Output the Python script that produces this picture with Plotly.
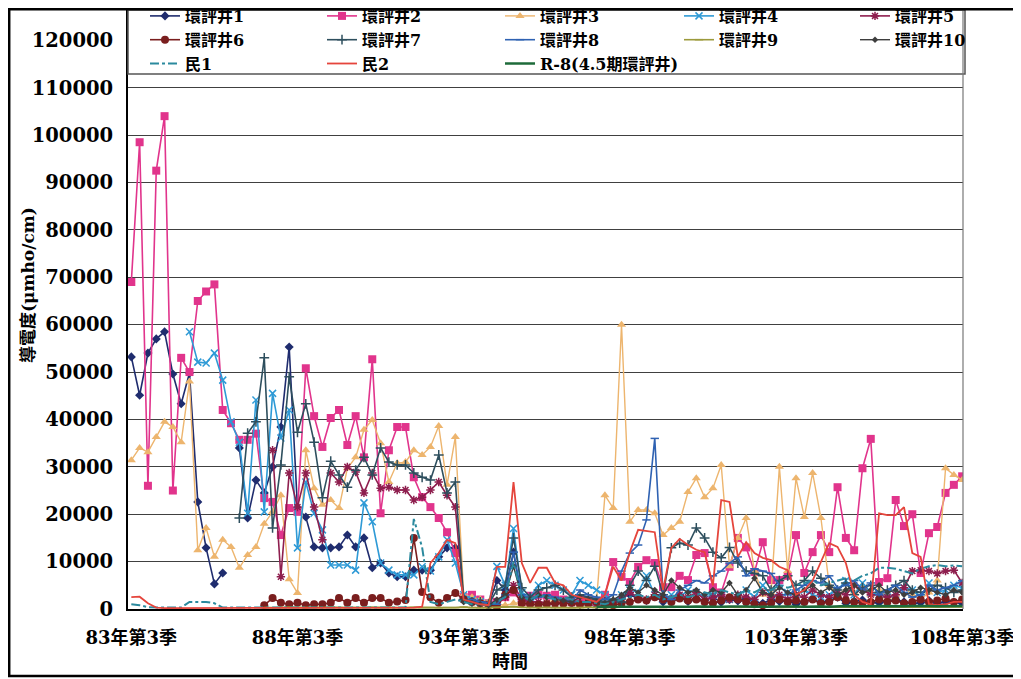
import plotly.graph_objects as go

# ---------------- categories (quarters 83Q3 .. 108Q3) ----------------
quarters = []
for k in range(101):
    yr = 83 + (2 + k) // 4
    qt = (2 + k) % 4 + 1
    quarters.append(f"{yr}年第{qt}季")

tick_labels = ["83年第3季", "88年第3季", "93年第3季", "98年第3季", "103年第3季", "108年第3季"]
y_ticks = [0, 10000, 20000, 30000, 40000, 50000, 60000, 70000, 80000, 90000, 100000, 110000, 120000]

N = None
# ---------------- series values (µmho/cm) ----------------
well1 = [53200, 45100, 54000, 57000, 58500, 49600, 43300, 49800, 22600, 12900,
         5300, 7600, N, 34000, 19200, 27200, 24500, 30000, 38400, 55300,
         21300, 19400, 13100, 12900, 12900, 13100, 15600, 13100, 15000, 8700,
         9700, 7600, 6800, 6800, 8200, 8200, 8200, 11000, 12900, 12900,
         2500, 1500, 1200, 900, 6000, 4000, 12000, 1500, 1200, 1000,
         1300, 1100, 1500, 1200, 1000, 900, 800, 700, 1500, 2500,
         3000, 2200, 1800, 2600, 1500, 2000, 2800, 1600, 2200, 1800,
         2500, 1400, 2000, 1700, 2300, 1500, 1200, 2000, 1600, 1800,
         1000, 1500, 2200, 1300, 1800, 2500, 1200, 1600, 1900, 1400,
         1300, 1700, 2000, 1500, 1100, 1300, 1800, 1200, 1500, 1400,
         1200]
well2 = [69000, 98500, 26000, 92500, 104000, 25000, 53000, 50000, 65000, 67000,
         68500, 42000, 39200, 35700, 35700, 37000, 23400, 22600, 15600, 21300,
         20500, 50800, 40700, 34200, 40300, 42000, 34600, 40700, 32000, 52700,
         20200, 33500, 38400, 38400, 27800, 23600, 21500, 19200, 16200, 11800,
         2500, 3000, 2000, 1200, 1500, 2500, 3500, 1500, 2800, 3000,
         2800, 3000, 2000, 1500, 2000, 1800, 1500, 3000, 9900, 6800,
         5700, 8900, 10300, 9700, 4600, 4600, 7000, 6100, 11400, 11800,
         4600, 3500, 8900, 15000, 13000, 7800, 14100, 6100, 6100, 7000,
         15600, 7600, 12000, 15600, 12000, 25700, 15000, 12400, 29700, 35900,
         5700, 6500, 23000, 17500, 20000, 7600, 16000, 17300, 24500, 26200,
         28000]
well3 = [31400, 34000, 33100, 36300, 39500, 38400, 35200, 48000, 12400, 17100,
         11000, 14600, 13100, 8700, 11400, 13100, 18000, 20500, 24000, 6300,
         3400, 33500, 25500, 22000, 23000, 21300, 29700, 32000, 37800, 39900,
         35000, 26800, 30800, 31000, 33500, 32500, 34200, 38600, 26200, 36300,
         3000, 2500, 2000, 1500, 1000, 800, 1200, 1500, 1000, 1200,
         1500, 1800, 1500, 1200, 1000, 1200, 2000, 24000, 21300, 60000,
         18400, 20900, 20900, 20200, 15600, 17100, 18400, 24700, 27600, 23600,
         25500, 30400, 9000, 15000, 19200, 8000, 3000, 3400, 30000, 8000,
         27600, 19400, 28700, 19200, 5000, 3000, 4000, 3500, 5000, 3000,
         4000, 2500, 3000, 4500, 3000, 2000, 3500, 6000, 29700, 28300,
         27200]
well4 = [N, N, N, N, N, N, N, 58500, 52100, 51900,
         54000, 48300, 39500, 35200, 20200, 44100, 20500, 45500, 36100, 42000,
         12900, 26800, 20200, 16700, 9300, 9300, 9300, 8200, 22400, 18400,
         9700, 8200, 7200, 7200, 7200, 8900, 8000, 11000, 14600, 9700,
         3000, 2000, 1500, 1000, 9000, 5000, 17000, 3500, 2500, 5000,
         6000, 5000, 4000, 3000, 6000, 5000, 4000, 3000, 1500, 3000,
         4000, 3500, 7000, 3000, 2000, 3000, 2500, 4000, 3500, 2500,
         3000, 2500, 2000, 3000, 4000, 2500, 5000, 3000, 2500, 3500,
         3000, 4000, 3000, 2500, 3000, 4000, 6000, 3000, 5500, 3500,
         3000, 2500, 3000, 4500, 4000, 2500, 5500, 3500, 4000, 5000,
         4500]
well5 = [N, N, N, N, N, N, N, N, N, N,
         N, N, N, N, N, N, N, 33500, 6800, 28700,
         21500, 28700, 21500, 14600, 28700, 26800, 30000, 28900, 24500, 28700,
         25500, 25700, 25100, 25100, 23000, 23600, 25100, 26800, 24000, 21500,
         2000, 1500, 1200, 1000, 1500, 2500, 5000, 2000, 1500, 1500,
         1200, 1000, 1500, 1200, 1000, 1200, 1500, 1000, 1500, 2000,
         3500, 2500, 2000, 3000, 2500, 2000, 3000, 2500, 3500, 2000,
         2500, 3000, 2000, 3000, 2500, 2000, 3500, 2500, 3000, 2000,
         3000, 2500, 4000, 3000, 2500, 3500, 3000, 5000, 4000, 3000,
         3000, 2500, 3000, 4500, 8000, 8200, 8000, 7500, 8000, 8200,
         5500]
well6 = [N, N, N, N, N, N, N, N, N, N,
         N, N, N, N, N, N, 800, 2300, 1300, 1000,
         1300, 800, 1000, 1000, 1300, 2300, 1300, 2300, 1300, 2300,
         2300, 1300, 1600, 1900, 15000, 3600, 2500, 1300, 2300, 3400,
         2000, 1500, 1200, 800, 500, 3000, 4000, 1200, 1000, 900,
         1000, 1200, 1100, 1300, 1000, 1200, 1500, 1000, 800, 1200,
         1500, 2000, 1800, 2500, 2000, 1500, 2200, 1800, 2000, 1500,
         1200, 1800, 2500, 2000, 1500, 1000, 800, 1200, 2000, 1500,
         1800, 1500, 2000, 1200, 1500, 2500, 1800, 1500, 1200, 1500,
         2000, 1500, 1800, 1200, 1500, 2000, 1500, 1800, 2200, 1500,
         2000]
well7 = [N, N, N, N, N, N, N, N, N, N,
         N, N, N, 19200, 37100, 39500, 53000, 17100, 30400, 49000,
         37300, 43300, 35200, 23500, 31200, 28300, 25700, 29300, 32000, 28300,
         34000, 31000, 30400, 30400, 28700, 27800, 27200, 32500, 24500, 26800,
         2000, 1500, 1500, 1000, 4000, 5000, 15000, 4500, 2500, 4000,
         4500, 5000, 4000, 2500, 3000, 2500, 2000, 1500, 2000, 1500,
         5000, 8000, 6000, 9000, 3000, 12900, 13900, 13500, 17100, 15000,
         12000, 10800, 13000, 9700, 8000, 7500, 7000, 4000, 6000, 7000,
         5000, 6000, 8000, 6500, 5000, 4000, 5500, 3000, 4500, 5000,
         3500, 4000, 5000, 6000, 4000, 3500, 4000, 5000, 4500, 3500,
         4000]
well8 = [N, N, N, N, N, N, N, N, N, N,
         N, N, N, N, N, N, N, N, N, N,
         N, N, N, N, N, N, N, N, N, N,
         N, N, N, N, N, N, N, N, N, N,
         N, 2000, 1500, 1200, 1000, 3000, 12000, 3000, 2000, 2500,
         3000, 2500, 2000, 1500, 4000, 3000, 2500, 2000, 3000, 8000,
         11800, 13500, 18800, 36000, 3000, 2000, 4000, 5000, 6000, 5500,
         7000, 8000, 9700, 11000, 7000, 8500, 8000, 7500, 5000, 3000,
         4000, 5000, 6000, 5500, 7000, 4500, 5000, 6000, 4000, 5500,
         3000, 4000, 5000, 3500, 2500, 3000, 5000, 4000, 4500, 5000,
         6000]
well9 = [N, N, N, N, N, N, N, N, N, N,
         N, N, N, N, N, N, 300, 250, 300, 350,
         300, 250, 300, 300, 350, 300, 250, 300, 300, 350,
         300, 300, 250, 300, 350, 300, 300, 250, 300, 300,
         400, 300, 250, 300, 350, 400, 500, 350, 300, 300,
         350, 300, 300, 250, 300, 350, 300, 300, 350, 400,
         450, 400, 350, 400, 300, 350, 400, 450, 400, 350,
         400, 450, 400, 350, 400, 450, 500, 400, 350, 400,
         450, 400, 450, 500, 400, 450, 400, 500, 450, 400,
         450, 500, 450, 400, 450, 500, 450, 400, 450, 500,
         450]
well10 = [N, N, N, N, N, N, N, N, N, N,
          N, N, N, N, N, N, N, N, N, N,
          N, N, N, N, N, N, N, N, N, N,
          N, N, N, N, N, N, N, N, N, N,
          1500, 1200, 1000, 800, 2000, 3000, 9000, 2500, 2000, 3000,
          2500, 2000, 1800, 1500, 2500, 2000, 1500, 1200, 2000, 3000,
          4500, 3500, 5000, 4000, 3000, 6000, 4500, 3500, 4000, 3000,
          4000, 3500, 5500, 3000, 4000, 6500, 3500, 3000, 4500, 3500,
          3000, 4000, 5000, 3500, 4500, 3000, 4000, 5000, 3500, 4000,
          5000, 3500, 4000, 3000, 3500, 4500, 4000, 3500, 3000, 4000,
          3500]
min1 = [1000, 800, 400, 300, 300, 300, 300, 1500, 1500, 1500,
        1200, 300, 300, 300, 300, 300, 300, 300, 300, 300,
        300, 300, 300, 300, 300, 300, 300, 300, 300, 300,
        300, 300, 300, 300, 19000, 13000, 1500, 1000, 1500, 2000,
        1500, 1000, 1000, 800, 1500, 2500, 10000, 2500, 2000, 3000,
        2500, 2000, 2500, 2000, 1500, 1500, 1200, 1000, 1500, 2000,
        2500, 3000, 2500, 3000, 2000, 2500, 3000, 2500, 3000, 3500,
        3000, 4000, 3500, 3000, 4000, 3500, 4500, 4000, 5000, 4500,
        5000, 5500, 6000, 5000, 5500, 6000, 6500, 6000, 7000, 7500,
        8700, 8700, 8500, 8000, 7500, 8500, 9000, 9300, 9000, 9200,
        9000]
min2 = [2500, 2600, 1200, 300, 200, 200, 200, 200, 200, 200,
        200, 200, 200, 200, 200, 200, 200, 200, 200, 200,
        200, 200, 200, 200, 200, 200, 200, 200, 200, 200,
        200, 200, 200, 200, 300, 500, 9700, 11800, 14600, 13900,
        2000, 1500, 1000, 800, 8900, 8900, 26800, 9700, 5500, 8700,
        8700, 5500, 5000, 3000, 2500, 2000, 1500, 3000, 8900, 6000,
        12000, 16700, 16500, 16200, 4000, 12900, 14800, 13500, 12500, 12000,
        5000, 23000, 22600, 11000, 14100, 11800, 10800, 10300, 8900, 8200,
        3000, 4000, 6000, 10000, 13900, 13100, 9700, 3000, 1500, 1000,
        20200, 19800, 19800, 21500, 11800, 11000, 1000, 800, 1000, 1500,
        1500]
r8 = [N] * 56 + [500, 400, 450, 500, 400,
                 450, 500, 550, 500, 450, 400, 500, 550, 500, 450,
                 500, 550, 600, 550, 500, 450, 500, 550, 600, 550,
                 500, 600, 550, 500, 600, 650, 600, 550, 600, 650,
                 600, 550, 600, 650, 700, 650, 600, 650, 700, 650]

# ---------------- styling ----------------
FONT = "DejaVu Serif, Noto Sans CJK TC, serif"

series = [
    ("環評井1", well1, "#1F2C6E", "diamond", 7, "solid", 1.6, "legend"),
    ("環評井2", well2, "#E1348C", "square", 8, "solid", 1.6, "legend2"),
    ("環評井3", well3, "#EDB56E", "triangle-up", 8, "solid", 1.4, "legend3"),
    ("環評井4", well4, "#2E9AD6", "x-thin", 7, "solid", 1.6, "legend4"),
    ("環評井5", well5, "#8E1E4E", "asterisk", 7, "solid", 1.6, "legend5"),
    ("環評井6", well6, "#7A1E1E", "circle", 8, "solid", 1.6, "legend"),
    ("環評井7", well7, "#2E4F5E", "cross-thin", 7, "solid", 1.6, "legend2"),
    ("環評井8", well8, "#2F62B2", "line-ew", 6, "solid", 1.6, "legend3"),
    ("環評井9", well9, "#9C9A3C", "line-ew", 6, "solid", 1.6, "legend4"),
    ("環評井10", well10, "#3E3E3E", "diamond", 5, "solid", 1.4, "legend5"),
]

fig = go.Figure()
for name, vals, color, sym, size, dash, lw, lg in series:
    line_sym = sym in ("x-thin", "asterisk", "cross-thin", "line-ew")
    fig.add_trace(go.Scatter(
        x=quarters, y=vals, name=name, mode="lines+markers",
        line=dict(color=color, width=lw, dash=dash),
        marker=dict(symbol=sym, size=size, color=color,
                    line=dict(color=color, width=1.5 if line_sym else 0)),
        legend=lg, connectgaps=False,
    ))

fig.add_trace(go.Scatter(x=quarters, y=min1, name="民1", mode="lines",
                         line=dict(color="#2B8A9E", width=2, dash="dashdot"),
                         legend="legend", connectgaps=False))
fig.add_trace(go.Scatter(x=quarters, y=min2, name="民2", mode="lines",
                         line=dict(color="#E5453C", width=1.8),
                         legend="legend2", connectgaps=False))
fig.add_trace(go.Scatter(x=quarters, y=r8, name="R-8(4.5期環評井)", mode="lines",
                         line=dict(color="#1E6B3A", width=2.5),
                         legend="legend3", connectgaps=False))

# the page body adds an 8px offset; the figure is sized for the remaining window
W, H = 1013, 671
L, R, T, B = 120, 58, 2, 70
pw, ph = W - L - R, H - T - B
OFF = 8


def px_x(xs):  # screen x -> paper
    return (xs - OFF - L) / pw


def px_y(ys):  # screen y -> paper
    return (H - B - (ys - OFF)) / ph


leg_common = dict(font=dict(family=FONT, size=16, color="black", weight="bold"),
                  bgcolor="rgba(0,0,0,0)", borderwidth=0, itemwidth=30,
                  tracegroupgap=0, xanchor="left", yanchor="top",
                  orientation="v", itemclick=False, itemdoubleclick=False)
leg_x = [145, 322, 500, 679, 855]
leg_top = px_y(-1)

fig.update_layout(
    width=W, height=H,
    margin=dict(l=L, r=R, t=T, b=B, autoexpand=False),
    paper_bgcolor="white", plot_bgcolor="white",
    showlegend=True,
    legend=dict(x=px_x(leg_x[0]), y=leg_top, **leg_common),
    legend2=dict(x=px_x(leg_x[1]), y=leg_top, **leg_common),
    legend3=dict(x=px_x(leg_x[2]), y=leg_top, **leg_common),
    legend4=dict(x=px_x(leg_x[3]), y=leg_top, **leg_common),
    legend5=dict(x=px_x(leg_x[4]), y=leg_top, **leg_common),
    font=dict(family=FONT, color="black"),
)

fig.update_xaxes(
    type="category", range=[-0.4, 100.1],
    tickmode="array", tickvals=[quarters[i] for i in range(0, 101, 20)],
    ticktext=tick_labels, ticks="", ticklabelstandoff=11,
    tickfont=dict(family=FONT, size=18, color="black", weight="bold"),
    showgrid=False, showline=True, linecolor="black", linewidth=2,
    zeroline=False,
)
fig.update_yaxes(
    range=[0, 126400], tickmode="array", tickvals=y_ticks,
    ticktext=[str(v) for v in y_ticks], ticks="", ticklabelstandoff=9,
    tickfont=dict(family=FONT, size=19.5, color="black", weight="bold"),
    showgrid=True, gridcolor="#404040", gridwidth=1.3,
    showline=True, linecolor="black", linewidth=2, zeroline=False,
)

shapes = [
    # legend box
    dict(type="rect", xref="paper", yref="paper", x0=0, x1=px_x(965), y0=px_y(74), y1=1,
         fillcolor="white", line=dict(color="#555555", width=1.5), layer="above"),
    # right plot border
    dict(type="line", xref="paper", yref="paper", x0=1, x1=1, y0=0, y1=1,
         line=dict(color="#777777", width=1.2), layer="above"),
    # outer frame
    dict(type="rect", xref="paper", yref="paper", x0=px_x(9.2), x1=px_x(1017),
         y0=px_y(676), y1=px_y(9.2), fillcolor="rgba(0,0,0,0)",
         line=dict(color="black", width=2.5), layer="above"),
]
fig.update_layout(shapes=shapes)

fig.add_annotation(text="導電度(μmho/cm)", xref="paper", yref="paper",
                   x=px_x(28), y=px_y(285), textangle=-90, showarrow=False,
                   xanchor="center", yanchor="middle",
                   font=dict(family=FONT, size=17, color="black", weight="bold"))
fig.add_annotation(text="時間", xref="paper", yref="paper",
                   x=px_x(510), y=px_y(661), showarrow=False,
                   xanchor="center", yanchor="middle",
                   font=dict(family=FONT, size=18, color="black", weight="bold"))

fig.write_html("out.html")
